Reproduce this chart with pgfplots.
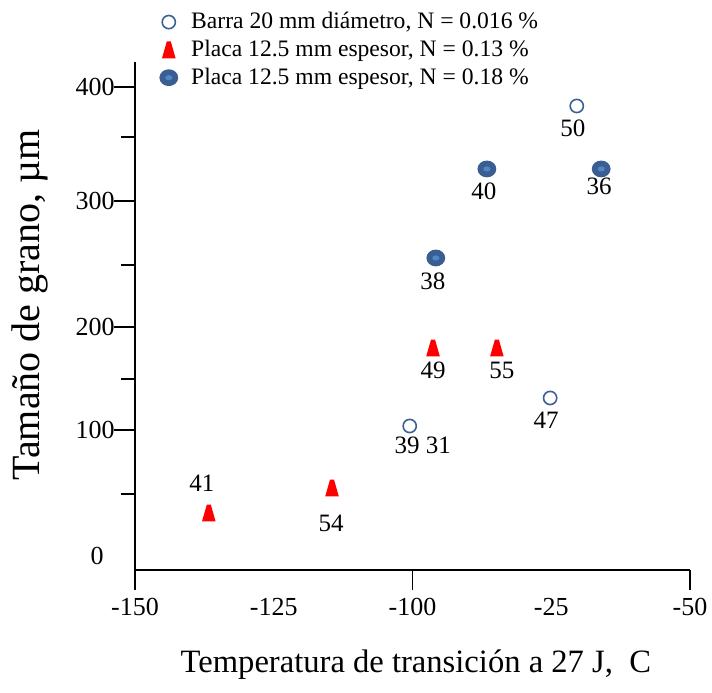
\documentclass[border=0pt]{standalone}
\usepackage{fontspec}
\setmainfont{Liberation Serif}
\usepackage{pgfplots}
\pgfplotsset{compat=1.18}
\definecolor{barBlue}{HTML}{3A6096}
\definecolor{dotDark}{HTML}{3B5E92}
\definecolor{dotLight}{HTML}{4F86C6}
\definecolor{placaRed}{HTML}{FF0000}

% filled blue dot with lighter centre
\pgfdeclareplotmark{bigdot}{%
  \pgfpathellipse{\pgfpointorigin}{\pgfpoint{4.7pt}{0pt}}{\pgfpoint{0pt}{4.2pt}}%
  \pgfsetfillcolor{dotDark}\pgfusepathqfill
  \pgfpathellipse{\pgfpointorigin}{\pgfpoint{1.8pt}{0pt}}{\pgfpoint{0pt}{1.3pt}}%
  \pgfsetfillcolor{dotLight}\pgfusepathqfill}

% rounded red "bell" triangle
\pgfdeclareplotmark{bell}{%
  \pgfsetcornersarced{\pgfpoint{1.3pt}{1.3pt}}%
  \pgfpathmoveto{\pgfpoint{0pt}{-4.2pt}}%
  \pgfpathlineto{\pgfpoint{3.4pt}{-4.2pt}}%
  \pgfpathlineto{\pgfpoint{1pt}{4.2pt}}%
  \pgfpathlineto{\pgfpoint{-1pt}{4.2pt}}%
  \pgfpathlineto{\pgfpoint{-3.4pt}{-4.2pt}}%
  \pgfpathclose
  \pgfusepathqfill}

\pgfplotsset{
  ptlabels/.style={
    nodes near coords,
    point meta=explicit symbolic,
    visualization depends on={value \thisrow{dx}\as\dx},
    visualization depends on={value \thisrow{dy}\as\dy},
    every node near coord/.append style={anchor=center, inner sep=0pt,
      xshift=\dx pt, yshift=\dy pt, font=\fontsize{12.5}{15}\selectfont, text=black},
  },
}

\begin{document}
\begin{tikzpicture}
\begin{axis}[
    scale only axis,
    width=277.5pt, height=254pt,
    xmin=-150, xmax=-50, ymin=-11.9, ymax=421.3,
    axis x line*=bottom, axis y line*=left,
    axis line style={-, line width=0.9pt},
    every tick/.style={line width=0.9pt, black},
    tick align=outside,
    major tick length=0pt,
    minor tick length=7pt,
    xtick={-150,-125,-100,-75,-50},
    xticklabels={-150,-125,\raisebox{-3pt}{-100},-25,-50},
    x tick label style={yshift=-10.5pt},
    extra x ticks={-150,-100,-50},
    extra x tick labels={},
    extra x tick style={major tick length=10pt},
    ytick={0,107.5,195.3,302.8,400},
    yticklabels={0\hspace*{5.5pt},100,200,300,400},
    y tick label style={xshift=-6.7pt},
    extra y ticks={107.5,195.3,302.8,400},
    extra y tick labels={},
    extra y tick style={major tick length=10.5pt},
    minor ytick={52.9,151,248.2,357.4},
    ticklabel style={font=\fontsize{13}{15}\selectfont},
    /pgf/number format/assume math mode=true,
    xlabel={Temperatura de transición a 27 J,\ \ C},
    xlabel style={at={(axis description cs:0.506,-0.187)}, anchor=center,
      font=\fontsize{16.3}{19}\selectfont},
    ylabel={Tamaño de grano, µm},
    ylabel style={at={(axis description cs:-0.190,0.522)}, anchor=center,
      font=\fontsize{20}{23}\selectfont},
    legend style={draw=none, fill=none, at={(rel axis cs:0,1)}, anchor=north west,
      xshift=9pt, yshift=29pt, font=\fontsize{11.8}{14}\selectfont,
      row sep=0.2pt, /tikz/every odd column/.append style={column sep=4.5pt}},
    legend cell align=left,
    clip=false,
]
\addplot[only marks, mark=o, mark size=3.3pt,
  mark options={draw=barBlue, fill=white, line width=0.8pt}, ptlabels]
  table[col sep=comma, row sep=\\, meta=lab] {
x,y,lab,dx,dy\\
-70.4,383.8,50,-2,-11\\
-100.5,110.9,39 31,6.5,-9.5\\
-75.2,134.8,47,-2,-11\\
};
\addlegendentry{Barra 20 mm diámetro, N = 0.016 \%}

\addplot[only marks, mark=bell, mark options={fill=placaRed, draw=none}, ptlabels]
  table[col sep=comma, row sep=\\, meta=lab] {
x,y,lab,dx,dy\\
-136.7,36.7,41,-3.5,15\\
-114.5,58.0,54,-0.5,-17.5\\
-96.3,177.4,49,0,-11\\
-84.8,177.4,55,2.5,-11\\
};
\addlegendentry{Placa 12.5 mm espesor, N = 0.13 \%}

\addplot[only marks, mark=bigdot, ptlabels]
  table[col sep=comma, row sep=\\, meta=lab] {
x,y,lab,dx,dy\\
-95.8,254.2,38,-1.5,-11.5\\
-86.6,330.1,40,-1.5,-11\\
-66.0,330.1,36,-1,-8.5\\
};
\addlegendentry{Placa 12.5 mm espesor, N = 0.18 \%}
\end{axis}
\pgfresetboundingbox
\path ([xshift=-67.5pt,yshift=-61pt]current axis.south west)
  rectangle ([xshift=11pt,yshift=31pt]current axis.north east);
\end{tikzpicture}
\end{document}
